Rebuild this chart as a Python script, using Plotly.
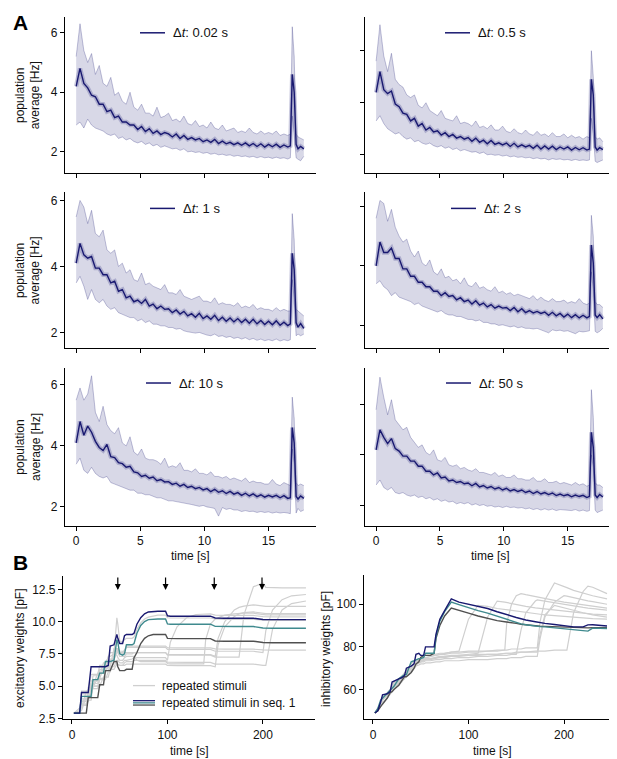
import plotly.graph_objects as go

# ---------------- panel A : population average rate, six inter-stimulus intervals ----------------
t_a = [0.0, 0.3, 0.6, 0.9, 1.2, 1.5, 1.8, 2.1, 2.4, 2.7, 3.0, 3.3, 3.6, 3.9, 4.2, 4.5, 4.8, 5.1, 5.4, 5.7,
       6.0, 6.3, 6.6, 6.9, 7.2, 7.5, 7.8, 8.1, 8.4, 8.7, 9.0, 9.3, 9.6, 9.9, 10.2, 10.5, 10.8, 11.1, 11.4, 11.7,
       12.0, 12.3, 12.6, 12.9, 13.2, 13.5, 13.8, 14.1, 14.4, 14.7, 15.0, 15.3, 15.6, 15.9, 16.2, 16.5,
       16.7, 16.85, 17.0, 17.15, 17.3, 17.5, 17.75]

dt_labels = ["0.02", "0.5", "1", "2", "10", "50"]

mean_002 = [4.2, 4.8, 4.3, 4.15, 3.9, 3.85, 3.6, 3.6, 3.35, 3.4, 3.15, 3.2, 3.0, 3.0, 2.9, 2.9, 2.75, 2.85, 2.68, 2.78,
            2.62, 2.7, 2.58, 2.65, 2.6, 2.5, 2.6, 2.45, 2.55, 2.42, 2.48, 2.4, 2.45, 2.34, 2.4, 2.32, 2.42, 2.28, 2.36, 2.27,
            2.32, 2.24, 2.3, 2.22, 2.3, 2.2, 2.28, 2.18, 2.27, 2.16, 2.25, 2.17, 2.26, 2.15, 2.23, 2.16,
            2.2, 4.6, 4.0, 2.25, 2.1, 2.18, 2.1]
hi_002 = [5.2, 6.3, 5.4, 5.0, 5.3, 4.6, 4.9, 4.3, 4.2, 4.5, 3.9, 4.0, 3.7, 3.6, 4.0, 3.5, 3.4, 3.6, 3.3, 3.3,
          3.2, 3.5, 3.15, 3.2, 3.3, 3.05, 3.1, 3.0, 3.2, 2.95, 2.9, 3.05, 2.85, 2.9, 2.8, 3.0, 2.8, 2.75, 2.9, 2.7,
          2.75, 2.8, 2.65, 2.7, 2.65, 2.8, 2.65, 2.6, 2.7, 2.6, 2.65, 2.6, 2.7, 2.55, 2.6, 2.55,
          2.6, 6.2, 5.2, 2.6, 2.5, 2.45, 2.4]
lo_002 = [2.9, 3.0, 2.8, 3.1, 2.9, 2.8, 2.75, 2.7, 2.6, 2.55, 2.6, 2.45, 2.5, 2.4, 2.45, 2.35, 2.3, 2.35, 2.25, 2.3,
          2.2, 2.25, 2.15, 2.2, 2.15, 2.1, 2.12, 2.05, 2.1, 2.0, 2.02, 1.98, 2.0, 1.95, 1.98, 1.92, 1.95, 1.9, 1.92, 1.88,
          1.9, 1.85, 1.88, 1.84, 1.86, 1.82, 1.85, 1.8, 1.84, 1.8, 1.82, 1.78, 1.82, 1.78, 1.8, 1.76,
          1.8, 3.2, 2.6, 1.8, 1.75, 1.7, 1.85]

mean_05 = [4.4, 5.2, 4.5, 4.35, 4.45, 3.95, 3.85, 3.6, 3.55, 3.3, 3.4, 3.1, 3.2, 2.95, 3.05, 2.88, 2.92, 2.76, 2.85, 2.7,
           2.78, 2.64, 2.7, 2.6, 2.66, 2.52, 2.64, 2.48, 2.56, 2.42, 2.55, 2.4, 2.46, 2.38, 2.45, 2.32, 2.44, 2.3, 2.38, 2.3,
           2.36, 2.25, 2.37, 2.22, 2.34, 2.22, 2.33, 2.2, 2.3, 2.22, 2.3, 2.18, 2.28, 2.19, 2.27, 2.18,
           2.22, 4.9, 4.3, 2.3, 2.18, 2.27, 2.2]
hi_05 = [5.6, 7.0, 5.8, 5.2, 5.9, 4.9, 4.7, 4.6, 4.3, 4.2, 4.3, 3.9, 3.8, 4.0, 3.7, 3.6, 3.5, 3.7, 3.4, 3.35,
         3.3, 3.5, 3.2, 3.25, 3.2, 3.1, 3.3, 3.05, 3.1, 3.0, 3.15, 2.95, 2.95, 3.1, 2.9, 2.85, 3.0, 2.85, 2.8, 2.95,
         2.8, 2.75, 2.9, 2.75, 2.8, 2.7, 2.85, 2.7, 2.7, 2.8, 2.65, 2.75, 2.65, 2.7, 2.6, 2.7,
         2.65, 6.0, 5.0, 2.7, 2.6, 2.65, 2.5]
lo_05 = [3.3, 3.5, 3.2, 3.0, 2.9, 2.8, 2.85, 2.7, 2.6, 2.65, 2.5, 2.55, 2.45, 2.4, 2.45, 2.35, 2.3, 2.35, 2.25, 2.3,
         2.2, 2.25, 2.15, 2.2, 2.15, 2.1, 2.12, 2.05, 2.1, 2.0, 2.02, 1.98, 2.0, 1.95, 1.98, 1.92, 1.95, 1.9, 1.92, 1.88,
         1.9, 1.85, 1.88, 1.84, 1.86, 1.8, 1.85, 1.82, 1.84, 1.8, 1.82, 1.78, 1.82, 1.78, 1.8, 1.78,
         1.8, 3.4, 2.8, 1.75, 1.7, 1.75, 1.8]

mean_1 = [4.1, 4.7, 4.35, 4.25, 4.3, 3.95, 3.95, 3.75, 3.75, 3.5, 3.55, 3.25, 3.3, 3.05, 3.1, 2.93, 2.98, 2.88, 3.0, 2.8,
          2.86, 2.72, 2.8, 2.7, 2.72, 2.6, 2.68, 2.56, 2.64, 2.5, 2.57, 2.46, 2.58, 2.42, 2.5, 2.4, 2.52, 2.36, 2.46, 2.34,
          2.44, 2.32, 2.42, 2.3, 2.4, 2.28, 2.4, 2.26, 2.36, 2.24, 2.34, 2.23, 2.35, 2.22, 2.31, 2.21,
          2.26, 4.4, 3.9, 2.3, 2.16, 2.27, 2.12]
hi_1 = [5.5, 6.0, 5.8, 5.3, 5.7, 5.0, 4.9, 5.1, 4.5, 4.4, 4.5, 4.0, 4.1, 3.8, 3.9, 3.6, 3.55, 3.8, 3.45, 3.5,
        3.4, 3.35, 3.3, 3.45, 3.2, 3.2, 3.15, 3.3, 3.1, 3.05, 3.0, 3.05, 3.1, 2.95, 2.95, 2.9, 3.05, 2.85, 2.9, 2.85,
        2.85, 2.8, 2.9, 2.75, 2.8, 2.75, 2.85, 2.7, 2.75, 2.7, 2.7, 2.65, 2.75, 2.65, 2.7, 2.65,
        2.65, 5.6, 4.8, 2.7, 2.65, 2.6, 2.5]
lo_1 = [3.5, 3.7, 3.4, 3.0, 3.3, 3.0, 2.9, 3.0, 2.8, 2.7, 2.75, 2.6, 2.55, 2.5, 2.45, 2.45, 2.35, 2.4, 2.3, 2.35,
        2.25, 2.25, 2.2, 2.2, 2.15, 2.15, 2.1, 2.12, 2.05, 2.02, 2.0, 1.98, 2.0, 1.95, 1.92, 1.9, 1.95, 1.88, 1.9, 1.85,
        1.88, 1.82, 1.85, 1.8, 1.84, 1.78, 1.82, 1.76, 1.8, 1.75, 1.78, 1.75, 1.8, 1.74, 1.78, 1.75,
        1.78, 3.6, 3.0, 1.9, 1.95, 1.9, 1.95]

mean_2 = [4.0, 4.8, 4.45, 4.45, 4.6, 4.25, 4.25, 3.9, 3.9, 3.65, 3.65, 3.45, 3.45, 3.3, 3.3, 3.15, 3.15, 3.0, 3.1, 2.97,
          3.0, 2.86, 2.93, 2.8, 2.85, 2.72, 2.83, 2.68, 2.75, 2.62, 2.7, 2.58, 2.65, 2.58, 2.6, 2.5, 2.6, 2.46, 2.56, 2.43,
          2.5, 2.42, 2.47, 2.4, 2.45, 2.34, 2.44, 2.32, 2.4, 2.28, 2.38, 2.26, 2.36, 2.25, 2.34, 2.25,
          2.3, 4.7, 4.1, 2.35, 2.26, 2.36, 2.22]
hi_2 = [5.6, 6.2, 6.1, 5.5, 5.9, 5.3, 5.0, 4.8, 4.9, 4.5, 4.3, 4.5, 4.1, 4.0, 4.2, 3.8, 3.7, 3.9, 3.6, 3.65,
        3.5, 3.55, 3.4, 3.6, 3.35, 3.3, 3.45, 3.25, 3.3, 3.2, 3.15, 3.3, 3.1, 3.15, 3.05, 3.1, 3.0, 3.05, 3.0, 2.95,
        2.9, 3.0, 2.85, 2.95, 2.85, 2.8, 2.9, 2.8, 2.8, 2.85, 2.75, 2.8, 2.75, 2.9, 2.75, 2.7,
        2.75, 5.7, 5.0, 2.8, 2.7, 2.7, 2.6]
lo_2 = [3.4, 3.5, 3.3, 3.2, 3.0, 3.1, 2.95, 2.9, 2.85, 2.8, 2.7, 2.75, 2.65, 2.6, 2.55, 2.5, 2.45, 2.5, 2.4, 2.35,
        2.35, 2.3, 2.3, 2.25, 2.2, 2.2, 2.15, 2.18, 2.1, 2.1, 2.05, 2.05, 2.0, 2.02, 1.98, 1.95, 1.98, 1.92, 1.95, 1.9,
        1.9, 1.88, 1.9, 1.85, 1.8, 1.75, 1.85, 1.82, 1.84, 1.8, 1.82, 1.78, 1.72, 1.8, 1.78, 1.8,
        1.82, 3.8, 3.2, 1.8, 1.75, 1.8, 1.9]

mean_10 = [4.1, 4.8, 4.35, 4.65, 4.45, 4.15, 3.95, 3.85, 4.05, 3.65, 3.62, 3.45, 3.42, 3.3, 3.33, 3.15, 3.12, 3.0, 3.04, 2.94,
           2.98, 2.86, 2.9, 2.82, 2.83, 2.74, 2.78, 2.68, 2.74, 2.64, 2.68, 2.6, 2.64, 2.56, 2.6, 2.5, 2.58, 2.48, 2.53, 2.44,
           2.51, 2.42, 2.47, 2.38, 2.45, 2.36, 2.43, 2.34, 2.4, 2.32, 2.38, 2.33, 2.38, 2.3, 2.37, 2.28,
           2.3, 4.6, 4.1, 2.35, 2.26, 2.36, 2.28]
hi_10 = [5.5, 5.9, 5.5, 5.7, 6.3, 5.1, 4.8, 5.3, 4.7, 4.5, 4.4, 4.6, 4.1, 4.0, 4.3, 3.8, 3.7, 3.9, 3.6, 3.55,
         3.55, 3.5, 3.4, 3.6, 3.3, 3.35, 3.3, 3.45, 3.2, 3.2, 3.15, 3.25, 3.1, 3.1, 3.05, 3.15, 3.0, 3.0, 2.95, 3.0,
         2.9, 2.95, 2.9, 2.85, 2.95, 2.8, 2.85, 2.8, 2.8, 2.75, 2.75, 2.9, 2.75, 2.7, 2.8, 2.75,
         2.7, 5.6, 4.9, 2.8, 2.7, 2.75, 2.7]
lo_10 = [3.4, 3.6, 3.2, 3.1, 3.3, 3.1, 3.0, 2.95, 3.0, 2.8, 2.75, 2.7, 2.65, 2.6, 2.55, 2.55, 2.45, 2.45, 2.4, 2.4,
         2.35, 2.3, 2.3, 2.25, 2.2, 2.2, 2.18, 2.15, 2.12, 2.1, 2.08, 2.05, 2.02, 2.05, 2.0, 1.98, 1.95, 1.7, 1.98, 1.92,
         1.95, 1.9, 1.9, 1.85, 1.88, 1.85, 1.86, 1.82, 1.85, 1.82, 1.84, 1.8, 1.83, 1.8, 1.82, 1.8,
         1.78, 3.9, 3.4, 1.8, 1.95, 1.85, 1.9]

mean_50 = [4.2, 5.0, 4.7, 4.45, 4.65, 4.25, 4.15, 3.95, 3.95, 3.75, 3.75, 3.55, 3.55, 3.35, 3.35, 3.2, 3.28, 3.08, 3.12, 2.96,
           3.0, 2.9, 2.94, 2.85, 2.88, 2.77, 2.86, 2.72, 2.78, 2.68, 2.74, 2.64, 2.7, 2.6, 2.67, 2.56, 2.62, 2.54, 2.6, 2.5,
           2.56, 2.46, 2.54, 2.44, 2.5, 2.42, 2.48, 2.38, 2.44, 2.37, 2.42, 2.33, 2.4, 2.34, 2.39, 2.3,
           2.35, 4.9, 4.3, 2.4, 2.3, 2.42, 2.32]
hi_50 = [5.8, 7.1, 6.3, 5.6, 6.2, 5.4, 5.2, 5.0, 5.1, 4.7, 4.5, 4.3, 4.4, 4.1, 4.0, 4.2, 3.8, 3.75, 3.9, 3.6,
         3.55, 3.6, 3.45, 3.5, 3.4, 3.35, 3.45, 3.3, 3.3, 3.25, 3.2, 3.3, 3.15, 3.2, 3.1, 3.1, 3.2, 3.05, 3.05, 3.0,
         3.0, 3.1, 2.95, 2.95, 3.05, 2.9, 2.9, 2.95, 2.85, 2.9, 2.85, 2.8, 2.9, 2.8, 2.85, 2.75,
         2.8, 6.6, 5.5, 2.9, 2.8, 2.8, 2.7]
lo_50 = [2.8, 3.0, 2.7, 2.6, 2.7, 2.5, 2.45, 2.5, 2.4, 2.35, 2.4, 2.3, 2.35, 2.25, 2.3, 2.2, 2.25, 2.15, 2.2, 2.12,
         2.15, 2.05, 2.1, 2.05, 2.1, 2.0, 2.05, 1.98, 2.02, 1.95, 1.98, 1.92, 1.95, 1.9, 1.95, 1.9, 1.92, 1.88, 1.9, 1.85,
         1.88, 1.82, 1.86, 1.8, 1.85, 1.8, 1.84, 1.78, 1.82, 1.8, 1.8, 1.78, 1.82, 1.76, 1.8, 1.75,
         1.78, 4.0, 3.5, 1.8, 1.7, 1.75, 1.8]

# ---------------- panel B : excitatory weights [pF] ----------------
t_exc = [2, 8, 10, 15, 17, 20, 22, 27, 29, 33, 35, 38, 40, 44, 47, 48, 50, 53, 55, 57,
         63, 65, 68, 72, 76, 80, 85, 90, 98, 100, 103, 110, 120, 130, 138, 140, 145, 150, 153, 160,
         170, 175, 180, 190, 200, 203, 210, 220, 230, 245]

exc_seq_navy = [2.9, 2.9, 4.5, 4.5, 4.5, 6.5, 6.5, 6.5, 6.5, 6.5, 6.5, 6.6, 8.1, 8.2, 9.0, 8.7, 8.3, 8.3, 8.9, 9.0,
                9.0, 9.1, 9.8, 10.3, 10.6, 10.75, 10.8, 10.8, 10.8, 10.45, 10.42, 10.42, 10.42, 10.42, 10.42, 10.42, 10.42, 10.28, 10.26, 10.26,
                10.26, 10.26, 10.26, 10.26, 10.16, 10.15, 10.15, 10.15, 10.15, 10.15]
exc_seq_teal = [2.9, 2.9, 4.2, 4.2, 4.2, 4.2, 5.5, 5.5, 6.0, 6.0, 6.9, 6.9, 6.9, 7.0, 8.6, 8.4, 7.5, 7.4, 7.5, 8.2,
                8.2, 8.3, 9.1, 9.7, 10.0, 10.15, 10.2, 10.2, 10.2, 9.82, 9.8, 9.8, 9.8, 9.8, 9.8, 9.8, 9.8, 9.63, 9.62, 9.62,
                9.62, 9.62, 9.62, 9.62, 9.5, 9.48, 9.48, 9.48, 9.48, 9.48]
exc_seq_dark = [2.9, 2.9, 2.9, 2.9, 4.1, 4.1, 4.1, 4.1, 5.1, 5.1, 6.2, 6.2, 6.2, 6.9, 6.9, 6.5, 6.2, 6.2, 6.2, 6.3,
                6.3, 7.2, 7.6, 8.3, 8.7, 8.9, 9.0, 9.0, 9.0, 8.7, 8.68, 8.68, 8.68, 8.68, 8.68, 8.68, 8.68, 8.5, 8.48, 8.48,
                8.48, 8.48, 8.48, 8.48, 8.38, 8.36, 8.36, 8.36, 8.36, 8.36]

exc_rep = [
    [2.9, 3.0, 3.6, 3.6, 4.3, 4.3, 5.0, 5.0, 5.6, 5.6, 6.2, 6.2, 6.5, 6.5, 7.0, 7.0, 6.8, 6.8, 7.0, 7.0,
     7.1, 7.2, 7.2, 7.2, 7.2, 7.2, 7.2, 7.2, 7.2, 7.0, 8.4, 9.6, 10.3, 10.55, 10.6, 10.6, 10.6, 10.5, 10.48, 10.48,
     10.48, 10.48, 10.48, 10.48, 10.38, 10.36, 10.36, 10.36, 10.36, 10.36],
    [2.9, 2.9, 4.0, 4.0, 4.0, 5.4, 5.4, 5.4, 6.0, 6.0, 6.0, 6.6, 6.6, 7.4, 7.4, 7.2, 7.0, 7.0, 7.2, 7.3,
     7.3, 7.3, 7.0, 6.9, 6.9, 6.9, 6.9, 6.9, 6.9, 6.75, 6.72, 6.72, 6.72, 6.72, 6.72, 8.6, 9.8, 10.2, 10.3, 10.5,
     10.6, 10.65, 10.65, 10.65, 10.55, 10.52, 10.52, 10.52, 10.52, 10.52],
    [2.9, 3.3, 3.3, 4.6, 4.6, 4.6, 5.8, 5.8, 5.8, 6.8, 6.8, 7.2, 7.6, 7.6, 7.9, 7.9, 7.7, 7.7, 7.6, 7.6,
     7.6, 7.6, 7.6, 7.6, 7.6, 7.6, 7.6, 7.6, 7.6, 7.45, 7.44, 7.44, 7.44, 7.44, 7.44, 7.44, 7.44, 7.3, 8.7, 10.0,
     10.9, 11.1, 11.2, 11.3, 11.2, 11.18, 11.18, 11.18, 11.18, 11.18],
    [2.9, 2.9, 4.4, 4.4, 4.4, 5.0, 5.0, 6.0, 6.0, 6.0, 6.5, 6.5, 6.5, 7.9, 7.9, 7.6, 7.3, 7.3, 7.3, 7.5,
     7.5, 7.6, 7.6, 7.6, 7.6, 7.6, 7.6, 7.6, 7.6, 7.4, 7.4, 7.4, 7.4, 7.4, 7.4, 7.4, 7.4, 7.25, 7.24, 7.24,
     7.24, 7.24, 10.5, 12.7, 13.0, 12.65, 12.62, 12.62, 12.62, 12.62],
    [2.9, 3.1, 3.1, 4.2, 4.2, 4.2, 5.2, 5.2, 6.3, 6.3, 6.3, 7.0, 7.0, 7.0, 7.8, 7.8, 7.6, 7.6, 7.8, 8.0,
     8.0, 8.0, 8.0, 8.0, 8.0, 8.0, 8.0, 8.0, 8.0, 7.85, 7.84, 7.84, 7.84, 7.84, 7.84, 7.84, 7.84, 7.7, 7.7, 7.7,
     7.7, 7.7, 7.7, 7.7, 7.6, 9.3, 10.9, 11.7, 12.0, 12.1],
    [2.9, 2.9, 3.8, 3.8, 3.8, 4.8, 4.8, 4.8, 5.5, 5.5, 5.5, 6.1, 6.1, 6.8, 6.8, 6.7, 6.6, 6.6, 6.8, 6.9,
     6.9, 7.0, 7.0, 7.0, 7.0, 7.0, 7.0, 7.0, 7.0, 6.85, 6.84, 6.84, 6.84, 6.84, 6.84, 6.84, 6.84, 6.7, 6.7, 6.7,
     6.7, 6.7, 6.7, 6.7, 6.6, 6.6, 9.4, 10.9, 11.4, 11.6],
    [2.9, 2.9, 3.5, 3.5, 4.9, 4.9, 4.9, 5.6, 5.6, 6.4, 6.4, 6.4, 7.1, 7.1, 7.6, 7.6, 7.5, 7.5, 7.7, 8.1,
     8.1, 8.1, 8.1, 8.1, 8.1, 8.1, 8.1, 8.1, 8.1, 7.98, 7.96, 7.96, 7.96, 7.96, 7.96, 7.96, 7.96, 7.88, 7.86, 7.86,
     7.86, 7.86, 7.86, 7.86, 7.8, 7.78, 7.78, 7.78, 7.78, 7.78],
    [2.9, 2.9, 4.6, 4.6, 4.6, 5.9, 5.9, 5.9, 6.6, 6.6, 6.6, 7.3, 7.3, 7.5, 10.3, 9.8, 8.5, 8.4, 8.6, 8.7,
     8.7, 8.8, 9.4, 9.9, 10.2, 10.35, 10.45, 10.5, 10.5, 10.3, 10.28, 10.28, 10.28, 10.28, 10.28, 10.28, 10.28, 10.2, 10.18, 10.18,
     10.18, 10.18, 10.18, 10.18, 10.12, 10.1, 10.1, 10.1, 10.1, 10.1],
    [2.9, 2.9, 3.9, 3.9, 3.9, 3.9, 5.0, 5.0, 5.0, 5.7, 5.7, 5.7, 6.3, 6.3, 6.7, 6.7, 6.6, 6.6, 6.6, 6.7,
     6.7, 6.7, 6.7, 6.7, 6.7, 6.7, 6.7, 6.7, 6.7, 6.6, 6.58, 6.58, 6.58, 6.58, 6.58, 6.58, 6.58, 6.5, 8.2, 9.6,
     10.4, 10.6, 10.7, 10.75, 10.65, 10.62, 10.62, 10.62, 10.62, 10.62],
]

stim_times = [48, 98, 149, 199]

# ---------------- panel B : inhibitory weights [pF] ----------------
t_inh = [2, 5, 8, 10, 15, 18, 20, 22, 27, 30, 33, 35, 40, 43, 45, 48, 50, 53, 55, 60,
         64, 66, 70, 75, 82, 90, 100, 110, 120, 130, 138, 140, 145, 150, 155, 160, 170, 172, 175, 180,
         190, 200, 203, 210, 220, 225, 230, 245]

inh_seq_navy = [49, 50, 54, 57.5, 58, 59, 63.5, 64, 65, 65.5, 66.5, 70, 71, 72, 76.5, 77, 76, 76, 80, 80,
                80, 86, 93, 97, 102.5, 101, 100, 99.3, 98, 96.5, 95.3, 95, 94.4, 93.8, 93.2, 92.6, 91.8, 91.6, 91.4, 91,
                90.5, 90, 89.8, 89.4, 89.4, 90.3, 90.4, 89.8]
inh_seq_teal = [49, 51, 55, 56, 58.5, 60, 61, 61.5, 65, 66, 67, 67, 73, 73.5, 74, 74.5, 74.5, 75, 77, 77,
                77, 85, 92, 96.5, 101, 99.8, 98.3, 97, 95.8, 94.3, 93, 92.7, 92, 91.3, 90.8, 90.4, 89.7, 89.6, 89.5, 89.4,
                89, 88.6, 88.5, 88, 87.5, 87.4, 88.8, 88.6]
inh_seq_dark = [49, 50, 52, 53, 56, 58.5, 59, 60, 62, 64, 66, 66, 68, 70, 72, 73, 75, 76, 76, 76,
                77, 84, 90, 94.5, 98.2, 97, 95.8, 94.5, 93.3, 92.3, 91.8, 91.7, 91.3, 91, 90.6, 90.3, 89.8, 89.8, 89.7, 89.6,
                89.4, 89.2, 89.1, 89, 88.9, 88.9, 89, 89]

inh_rep = [
    [49, 51, 53, 56, 57, 59, 61, 62, 64, 65, 66, 68, 70, 71, 73, 74, 74, 74.5, 75, 75.5,
     76, 76, 76.5, 77, 77.5, 78, 93, 99.5, 99, 98, 97.5, 97.4, 97, 96.6, 96.2, 96, 95.5, 95.4, 95.3, 95,
     94.6, 94.2, 94.1, 93.8, 93.5, 93.4, 93.3, 93],
    [49, 50.5, 52, 55, 58, 59, 60, 62, 63, 65, 67, 69, 71, 72, 73, 73.5, 73.5, 74, 74.5, 74.5,
     74.5, 75, 75, 75.5, 75.5, 76, 76.5, 77, 94, 101.5, 101, 100.8, 100.3, 99.8, 99.4, 99, 98.3, 98.2, 98, 97.7,
     97.2, 96.7, 96.6, 96.2, 95.8, 95.6, 95.4, 95],
    [49, 51, 54, 56.5, 58, 60, 62, 63, 64.5, 66, 67.5, 69, 72, 73, 74, 74, 74.5, 75, 75, 75.5,
     76, 76, 76.5, 76.5, 77, 77, 77.5, 77.5, 78, 78, 78.5, 91, 100, 104, 105, 104.5, 103.5, 103.3, 103, 102.6,
     101.8, 101, 100.8, 100.3, 99.6, 99.3, 99, 98.2],
    [49, 50, 53, 55, 57, 58, 60, 61, 63, 64, 65, 67, 69, 70, 71.5, 72.5, 73, 73, 73.5, 73.5,
     74, 74, 74, 74.5, 74.5, 75, 75, 75.5, 75.5, 76, 76, 76, 76.5, 76.5, 88, 96, 101.5, 102, 101.8, 101.4,
     100.6, 99.8, 99.6, 99.1, 98.5, 98.2, 97.9, 97.2],
    [49, 51, 53.5, 56, 58, 60, 61.5, 63, 64, 65.5, 67, 68.5, 70.5, 72, 73, 74, 75, 75.5, 76, 76,
     76.5, 76.5, 77, 77, 77.5, 77.5, 78, 78, 78, 78.5, 78.5, 78.5, 79, 79, 79, 79.5, 79.5, 79.5, 92, 102,
     110, 108.5, 107.8, 106.5, 105.2, 104.6, 104, 102.5],
    [49, 50, 52, 54, 56, 57.5, 59, 60.5, 62, 63.5, 65, 66.5, 68, 69.5, 71, 71.5, 72, 72, 72.5, 72.5,
     73, 73, 73, 73.5, 73.5, 73.5, 74, 74, 74, 74.5, 74.5, 74.5, 75, 75, 75, 75.5, 75.5, 75.5, 84, 94,
     101, 104, 103.8, 103, 102, 101.6, 101.2, 100],
    [49, 51, 54, 56, 58.5, 60, 62, 63.5, 65, 66, 67, 68, 70, 71, 72, 72.5, 73, 73.5, 74, 74,
     74.5, 74.5, 75, 75, 75.5, 75.5, 76, 76, 76.5, 76.5, 77, 77, 77, 77.5, 77.5, 77.5, 78, 78, 78, 78,
     78.5, 78.5, 78.5, 96, 106, 108.5, 108, 105],
    [49, 50.5, 53, 55.5, 57.5, 59, 60, 61.5, 63, 64.5, 66, 67.5, 69.5, 71, 72, 73, 73.5, 74, 74, 74.5,
     75, 75, 75.5, 75.5, 76, 76, 76, 76.5, 76.5, 76.5, 77, 77, 77, 77, 77.5, 77.5, 77.5, 77.5, 86, 95,
     99.5, 98.5, 98.2, 97.2, 96, 95.5, 95, 94],
]

# ---------------- styling ----------------
NAVY = "#191970"
NAVY_LINE = "rgba(25,25,112,0.32)"
NAVY_FILL = "rgba(25,25,112,0.17)"
NAVY_HALO = "rgba(25,25,112,0.22)"
TEAL = "#3f8a8e"
DARK = "#505050"
LIGHT = "#cfcfcf"
FONT = "Liberation Sans"
W, H = 617, 759


def px(x):
    return x / W


def py(y):
    return 1 - y / H


a_panels = [(mean_002, hi_002, lo_002), (mean_05, hi_05, lo_05), (mean_1, hi_1, lo_1),
            (mean_2, hi_2, lo_2), (mean_10, hi_10, lo_10), (mean_50, hi_50, lo_50)]

# axes boxes in pixels: (left, right) per column, (top, bottom) per row
col_x = [(57, 308), (357, 607)]
row_y = [(9, 166), (185, 343), (363, 522)]
a_yranges = [[1.3, 6.53], [1.31, 7.3], [1.52, 6.27], [1.23, 6.5], [1.38, 6.55], [1.17, 7.46]]
legend_pos = [(132, 25), (437, 25), (142, 202), (443, 202), (138, 378), (438, 378)]

fig = go.Figure()
axis_style = dict(showline=True, linecolor="black", linewidth=1.1, ticks="outside", ticklen=4,
                  tickwidth=1.1, tickcolor="black", showgrid=False, zeroline=False,
                  tickfont=dict(family=FONT, size=12, color="#111"))
layout = {}
shapes = []
annotations = []

for i, (mean, hi, lo) in enumerate(a_panels):
    n = i + 1
    r, c = divmod(i, 2)
    xa = "x" if n == 1 else f"x{n}"
    ya = "y" if n == 1 else f"y{n}"
    fig.add_trace(go.Scatter(x=t_a, y=lo, mode="lines", line=dict(color=NAVY_LINE, width=0.8),
                             xaxis=xa, yaxis=ya, showlegend=False, hoverinfo="skip"))
    fig.add_trace(go.Scatter(x=t_a, y=hi, mode="lines", line=dict(color=NAVY_LINE, width=0.8),
                             fill="tonexty", fillcolor=NAVY_FILL,
                             xaxis=xa, yaxis=ya, showlegend=False, hoverinfo="skip"))
    # darker core where the single runs overlap most
    fig.add_trace(go.Scatter(x=t_a, y=mean, mode="lines", line=dict(color=NAVY_HALO, width=4.5),
                             xaxis=xa, yaxis=ya, showlegend=False, hoverinfo="skip"))
    fig.add_trace(go.Scatter(x=t_a, y=mean, mode="lines", line=dict(color=NAVY, width=1.4),
                             xaxis=xa, yaxis=ya, showlegend=False))
    x0, x1 = col_x[c]
    y0, y1 = row_y[r]
    layout[f"xaxis{n}"] = dict(axis_style, domain=[px(x0), px(x1)], range=[-0.87, 18.7],
                               tickvals=[0, 5, 10, 15], showticklabels=(r == 2), anchor=ya)
    layout[f"yaxis{n}"] = dict(axis_style, domain=[py(y1), py(y0)], range=a_yranges[i],
                               tickvals=[2, 4, 6], showticklabels=(c == 0), anchor=xa)
    lx, ly = legend_pos[i]
    shapes.append(dict(type="line", xref="paper", yref="paper", x0=px(lx), x1=px(lx + 25),
                       y0=py(ly), y1=py(ly), line=dict(color=NAVY, width=1.5)))
    annotations.append(dict(xref="paper", yref="paper", x=px(lx + 31), y=py(ly), xanchor="left",
                            yanchor="middle", showarrow=False,
                            text=f"\u0394<i>t</i>: {dt_labels[i]} s",
                            font=dict(family=FONT, size=13, color="#111")))

# ---- B left: excitatory ----
for tr in exc_rep:
    fig.add_trace(go.Scatter(x=t_exc, y=tr, mode="lines", line=dict(color=LIGHT, width=1.2),
                             xaxis="x7", yaxis="y7", showlegend=False))
for tr, col in [(exc_seq_dark, DARK), (exc_seq_teal, TEAL), (exc_seq_navy, NAVY)]:
    fig.add_trace(go.Scatter(x=t_exc, y=tr, mode="lines", line=dict(color=col, width=1.4),
                             xaxis="x7", yaxis="y7", showlegend=False))
layout["xaxis7"] = dict(axis_style, domain=[px(55), px(307)], range=[-9.4, 254.5],
                        tickvals=[0, 100, 200], anchor="y7")
layout["yaxis7"] = dict(axis_style, domain=[py(717), py(573)], range=[2.42, 13.5],
                        tickvals=[2.5, 5, 7.5, 10, 12.5], tickformat=".1f", anchor="x7")

for ts in stim_times:
    annotations.append(dict(xref="x7", yref="y7", x=ts, y=12.45, ax=0, ay=-14, text="",
                            showarrow=True, arrowhead=2, arrowsize=1, arrowwidth=1.2,
                            arrowcolor="black"))

# ---- B right: inhibitory ----
for tr in inh_rep:
    fig.add_trace(go.Scatter(x=t_inh, y=tr, mode="lines", line=dict(color=LIGHT, width=1.2),
                             xaxis="x8", yaxis="y8", showlegend=False))
for tr, col in [(inh_seq_dark, DARK), (inh_seq_teal, TEAL), (inh_seq_navy, NAVY)]:
    fig.add_trace(go.Scatter(x=t_inh, y=tr, mode="lines", line=dict(color=col, width=1.4),
                             xaxis="x8", yaxis="y8", showlegend=False))
layout["xaxis8"] = dict(axis_style, domain=[px(356), px(612)], range=[-9.4, 258.6],
                        tickvals=[0, 100, 200], anchor="y8")
layout["yaxis8"] = dict(axis_style, domain=[py(717), py(572)], range=[46, 113.5],
                        tickvals=[60, 80, 100], anchor="x8")

# ---- B legend ----
shapes.append(dict(type="line", xref="paper", yref="paper", x0=px(125), x1=px(147),
                   y0=py(683), y1=py(683), line=dict(color=LIGHT, width=1.3)))
for yy, col in [(698.2, NAVY), (700.4, TEAL), (702.6, DARK)]:
    shapes.append(dict(type="line", xref="paper", yref="paper", x0=px(125), x1=px(147),
                       y0=py(yy), y1=py(yy), line=dict(color=col, width=1.3)))
annotations.append(dict(xref="paper", yref="paper", x=px(152), y=py(683), xanchor="left",
                        yanchor="middle", showarrow=False, text="repeated stimuli",
                        font=dict(family=FONT, size=12, color="#111")))
annotations.append(dict(xref="paper", yref="paper", x=px(152), y=py(700.4), xanchor="left",
                        yanchor="middle", showarrow=False, text="repeated stimuli in seq. 1",
                        font=dict(family=FONT, size=12, color="#111")))

# ---- axis titles and panel letters ----
title_font = dict(family=FONT, size=12, color="#111")
for yc in [87.5, 264, 442]:
    annotations.append(dict(xref="paper", yref="paper", x=px(19.5), y=py(yc), textangle=-90,
                            showarrow=False, text="population<br>average [Hz]", font=title_font,
                            xanchor="center", yanchor="middle"))
for xc, yc in [(182, 552), (482, 552), (181, 749), (484, 749)]:
    annotations.append(dict(xref="paper", yref="paper", x=px(xc), y=py(yc), showarrow=False,
                            text="time [s]", font=title_font, xanchor="center", yanchor="middle"))
annotations.append(dict(xref="paper", yref="paper", x=px(12), y=py(646), textangle=-90,
                        showarrow=False, text="excitatory weights [pF]", font=title_font,
                        xanchor="center", yanchor="middle"))
annotations.append(dict(xref="paper", yref="paper", x=px(318), y=py(646), textangle=-90,
                        showarrow=False, text="inhibitory weights [pF]", font=title_font,
                        xanchor="center", yanchor="middle"))
for letter, xc, yc in [("A", 12.5, 15), ("B", 12, 559)]:
    annotations.append(dict(xref="paper", yref="paper", x=px(xc), y=py(yc), showarrow=False,
                            text=f"<b>{letter}</b>", xanchor="center", yanchor="middle",
                            font=dict(family=FONT, size=21, color="black")))

fig.update_layout(width=W, height=H, margin=dict(l=0, r=0, t=0, b=0),
                  plot_bgcolor="white", paper_bgcolor="white",
                  shapes=shapes, annotations=annotations, **layout)
fig.write_html("out.html")
